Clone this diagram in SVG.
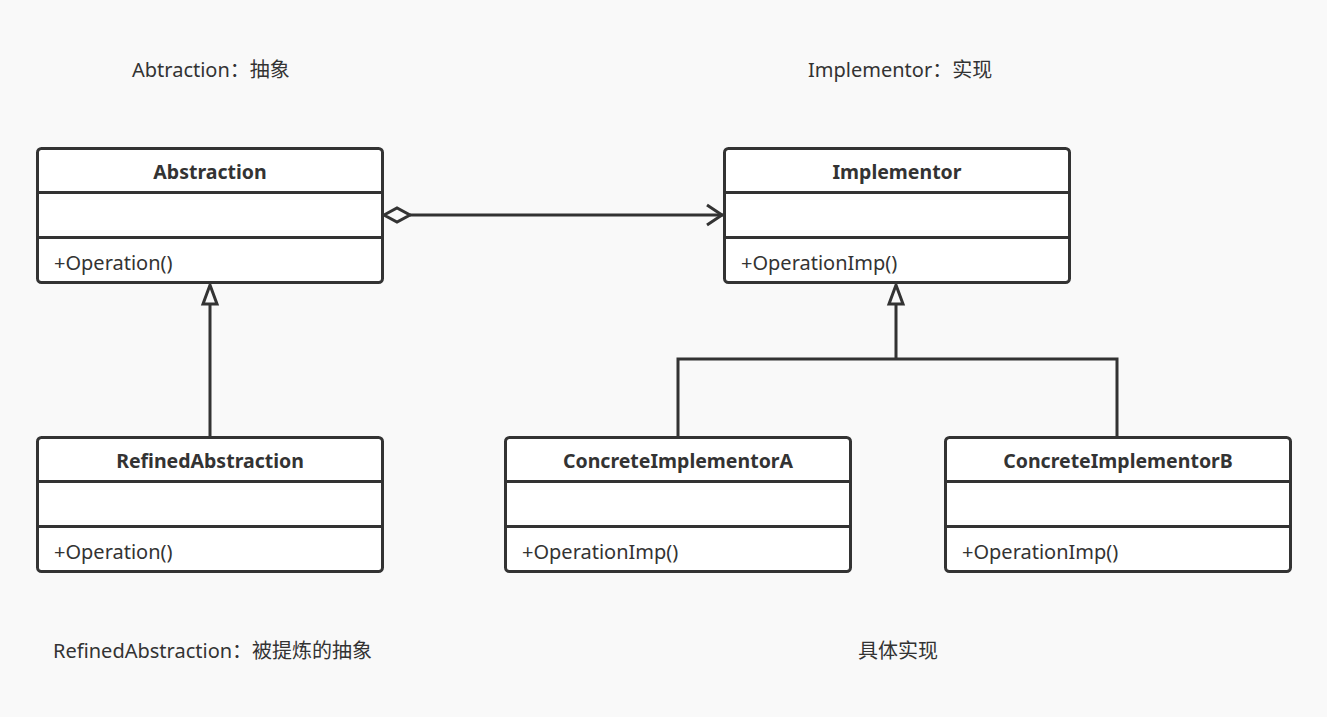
<svg xmlns="http://www.w3.org/2000/svg" width="1327" height="717" viewBox="0 0 1327 717">
<style>
.box{fill:#fff;stroke:#333;stroke-width:3}
.div{stroke:#333;stroke-width:3}
.t{font-family:"Noto Sans","Noto Sans CJK SC",sans-serif;fill:#333;font-size:20px}
.h{font-weight:bold;text-anchor:middle;font-size:19.5px}
.lab{font-family:"Noto Sans","Noto Sans CJK SC",sans-serif;fill:#333;font-size:20px}
.c{fill:none;stroke:#333;stroke-width:3}
</style>
<rect width="1327" height="717" fill="#f9f9f9"/>
<g id="labels">
<text class="lab" x="132" y="77">Abtraction：抽象</text>
<text class="lab" x="808" y="77">Implementor：实现</text>
<text class="lab" x="53" y="658">RefinedAbstraction：被提炼的抽象</text>
<text class="lab" x="858" y="658">具体实现</text>
</g>
<g id="connectors">
<path class="c" d="M410 215 H723"/>
<path class="c" d="M707 205 L722 215 L707 225"/>
<path class="c" d="M384 215 L397 208 L410 215 L397 222 Z" fill="#fff"/>
<path class="c" d="M210 304 V437"/>
<path class="c" d="M210 285 L217 304 H203 Z" fill="#fff"/>
<path class="c" d="M896 304 V359 M678 437 V359 H1117 V437"/>
<path class="c" d="M896 285 L903 304 H889 Z" fill="#fff"/>
</g>
<g id="Abstraction">
<rect class="box" x="37.5" y="148.5" width="345" height="134" rx="4"/>
<line class="div" x1="37.5" y1="192.5" x2="382.5" y2="192.5"/>
<line class="div" x1="37.5" y1="237.5" x2="382.5" y2="237.5"/>
<text class="t h" x="210" y="179">Abstraction</text>
<text class="t" x="54" y="270">+Operation()</text>
</g>
<g id="Implementor">
<rect class="box" x="724.5" y="148.5" width="345" height="134" rx="4"/>
<line class="div" x1="724.5" y1="192.5" x2="1069.5" y2="192.5"/>
<line class="div" x1="724.5" y1="237.5" x2="1069.5" y2="237.5"/>
<text class="t h" x="897" y="179">Implementor</text>
<text class="t" x="741" y="270">+OperationImp()</text>
</g>
<g id="RefinedAbstraction">
<rect class="box" x="37.5" y="437.5" width="345" height="134" rx="4"/>
<line class="div" x1="37.5" y1="481.5" x2="382.5" y2="481.5"/>
<line class="div" x1="37.5" y1="526.5" x2="382.5" y2="526.5"/>
<text class="t h" x="210" y="468">RefinedAbstraction</text>
<text class="t" x="54" y="559">+Operation()</text>
</g>
<g id="ConcreteImplementorA">
<rect class="box" x="505.5" y="437.5" width="345" height="134" rx="4"/>
<line class="div" x1="505.5" y1="481.5" x2="850.5" y2="481.5"/>
<line class="div" x1="505.5" y1="526.5" x2="850.5" y2="526.5"/>
<text class="t h" x="678" y="468">ConcreteImplementorA</text>
<text class="t" x="522" y="559">+OperationImp()</text>
</g>
<g id="ConcreteImplementorB">
<rect class="box" x="945.5" y="437.5" width="345" height="134" rx="4"/>
<line class="div" x1="945.5" y1="481.5" x2="1290.5" y2="481.5"/>
<line class="div" x1="945.5" y1="526.5" x2="1290.5" y2="526.5"/>
<text class="t h" x="1118" y="468">ConcreteImplementorB</text>
<text class="t" x="962" y="559">+OperationImp()</text>
</g>
</svg>
